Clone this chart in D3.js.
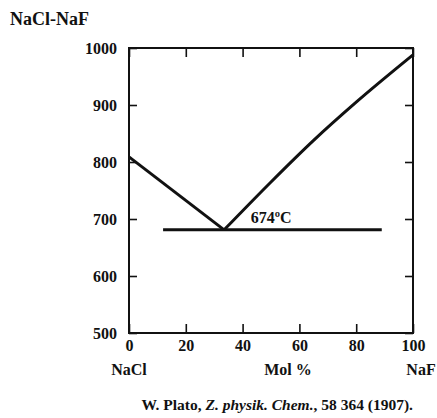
<!DOCTYPE html>
<html>
<head>
<meta charset="utf-8">
<script src="https://cdn.jsdelivr.net/npm/d3@7"></script>
<style>
	body { margin: 0; background: #fff; }
	svg text { font-family: "Liberation Serif", "DejaVu Serif", serif; font-weight: bold; fill: #111; }
	.axis path { display: none; }
	.axis line { stroke: #111; stroke-width: 1.6; }
</style>
</head>
<body>
<svg width="437" height="418" id="chart"></svg>
<script>
	// data
	var xTicks = [0, 20, 40, 60, 80, 100];
	var yTicks = [500, 600, 700, 800, 900, 1000];
	var liquidusNaCl = [[0, 809], [33.5, 681]];
	var liquidusNaF = [[33.5, 681], [50, 765], [65, 838], [80, 905], [100, 988]];
	var eutectic = [[12, 681], [89, 681]];
	var eutecticLabel = "674ºC";

	var svg = d3.select("svg#chart"),
		margin = { top: 48, right: 24, bottom: 85, left: 129 },
		width = +svg.attr("width") - margin.left - margin.right,
		height = +svg.attr("height") - margin.top - margin.bottom,
		g = svg.append("g").attr("transform", "translate(" + margin.left + "," + margin.top + ")");

	var x = d3.scaleLinear().domain([0, 100]).range([0, width]);
	var y = d3.scaleLinear().domain([500, 1000]).range([height, 0]);

	// axes, ticks pointing inward
	g.append("g").attr("class", "axis")
		.call(d3.axisLeft(y).tickValues(yTicks).tickFormat(d3.format("d")).tickSize(-8).tickPadding(12))
		.selectAll("text").style("font-size", "16px");

	g.append("g").attr("class", "axis")
		.attr("transform", "translate(0," + height + ")")
		.call(d3.axisBottom(x).tickValues(xTicks).tickSize(-9).tickPadding(7))
		.selectAll("text").style("font-size", "16px");

	g.append("g").attr("class", "axis")
		.call(d3.axisTop(x).tickValues(xTicks).tickSize(-9).tickFormat(""));

	g.append("g").attr("class", "axis")
		.attr("transform", "translate(" + width + ",0)")
		.call(d3.axisRight(y).tickValues(yTicks).tickSize(-8).tickFormat(""));

	// frame
	g.append("rect")
		.attr("width", width).attr("height", height)
		.attr("fill", "none").attr("stroke", "#111").attr("stroke-width", 2);

	var line = d3.line()
		.x(function(d) { return x(d[0]); })
		.y(function(d) { return y(d[1]); })
		.curve(d3.curveMonotoneX);

	[liquidusNaCl, liquidusNaF, eutectic].forEach(function(pts) {
		g.append("path")
			.datum(pts)
			.attr("d", line)
			.attr("fill", "none")
			.attr("stroke", "#111")
			.attr("stroke-width", 3);
	});

	g.append("text")
		.attr("x", x(42.9)).attr("y", y(693))
		.style("font-size", "16px")
		.text(eutecticLabel);

	// title and labels
	svg.append("text")
		.attr("x", 10).attr("y", 25)
		.style("font-size", "18px")
		.text("NaCl-NaF");

	g.append("text")
		.attr("x", x(0)).attr("y", height + 42)
		.attr("text-anchor", "middle")
		.style("font-size", "16px")
		.text("NaCl");

	g.append("text")
		.attr("x", x(56)).attr("y", height + 42)
		.attr("text-anchor", "middle")
		.style("font-size", "16px")
		.text("Mol %");

	g.append("text")
		.attr("x", x(100) + 8).attr("y", height + 42)
		.attr("text-anchor", "middle")
		.style("font-size", "16px")
		.text("NaF");

	var cite = svg.append("text")
		.attr("x", 413).attr("y", 410)
		.attr("text-anchor", "end")
		.style("font-size", "15.5px");
	cite.append("tspan").text("W. Plato, ");
	cite.append("tspan").style("font-style", "italic").text("Z. physik. Chem.");
	cite.append("tspan").text(", 58 364 (1907).");
</script>
</body>
</html>
